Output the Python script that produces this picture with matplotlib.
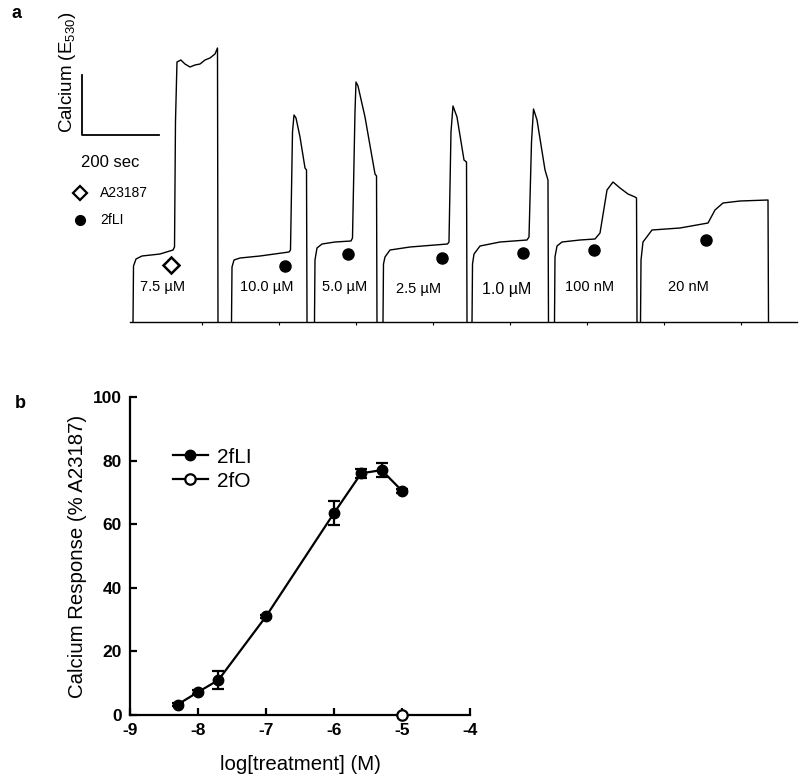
import matplotlib
matplotlib.use('Agg')
import matplotlib.pyplot as plt
from matplotlib.lines import Line2D
import numpy as np

plt.rcParams['font.family'] = ['Liberation Sans', 'DejaVu Sans']
plt.rcParams['axes.unicode_minus'] = False
plt.rcParams['mathtext.fontset'] = 'custom'
plt.rcParams['mathtext.rm'] = 'Liberation Sans'
plt.rcParams['mathtext.default'] = 'regular'

# ---- panel a: calcium traces (time in sec, signal in arbitrary E530 units)
trace_t = [
    [20.8, 22.1, 28.6, 44.1, 90.9, 124.7, 128.6, 131.1, 135.0, 145.0, 155.8, 168.8, 181.8, 194.8, 207.8, 220.7, 233.7, 240.2, 241.5],
    [276.6, 277.9, 283.1, 298.7, 350.6, 425.9, 429.8, 435.0, 438.9, 444.1, 454.5, 467.5, 471.4, 472.7],
    [492.1, 493.4, 498.6, 511.6, 545.4, 586.9, 590.8, 597.3, 599.9, 605.1, 623.3, 641.5, 649.3, 653.2, 654.4],
    [670.0, 671.3, 675.2, 688.2, 740.1, 837.5, 841.4, 846.6, 851.8, 862.2, 880.4, 886.9, 888.2],
    [901.2, 902.5, 906.4, 922.0, 973.9, 1044.0, 1049.2, 1055.7, 1060.9, 1070.0, 1090.8, 1098.5, 1099.8],
    [1115.4, 1116.7, 1121.9, 1134.9, 1181.6, 1220.6, 1233.6, 1251.8, 1267.4, 1285.5, 1306.3, 1324.5, 1328.4, 1329.7],
    [1338.8, 1340.1, 1345.2, 1368.6, 1441.3, 1514.1, 1532.2, 1553.0, 1597.2, 1669.9, 1671.2],
]
trace_y = [
    [0, 56, 63, 66, 68, 72, 75, 200, 260, 262, 258, 255, 257, 258, 262, 264, 268, 274, 0],
    [0, 55, 62, 64, 66, 70, 72, 190, 207, 204, 185, 154, 152, 0],
    [0, 62, 74, 78, 80, 81, 84, 210, 240, 236, 205, 165, 148, 146, 0],
    [0, 58, 65, 72, 75, 78, 80, 190, 216, 205, 162, 160, 0],
    [0, 58, 68, 76, 80, 82, 85, 180, 213, 202, 152, 142, 0],
    [0, 65, 76, 80, 82, 83, 89, 132, 140, 134, 128, 125, 124, 0],
    [0, 62, 80, 92, 94, 99, 112, 119, 121, 122, 0],
]
conc_labels = ['7.5 µM', '10.0 µM', '5.0 µM', '2.5 µM', '1.0 µM', '100 nM', '20 nM']
label_t = [98.7, 368.8, 571.3, 763.5, 992.1, 1207.6, 1462.1]
label_y = [35, 35, 35, 33, 33, 35, 35]
stim_t = [119.5, 415.5, 579.1, 823.2, 1033.6, 1218.0, 1508.9]
stim_y = [57, 56, 68, 64, 69, 72, 82]

# ---- panel b: dose response
log_conc = [-8.3, -8.0, -7.7, -7.0, -6.0, -5.6, -5.3, -5.0]
resp_2fli = [3.3, 7.2, 11.0, 31.0, 63.5, 76.0, 77.0, 70.5]
err_2fli = [0.6, 0.6, 2.8, 0.6, 3.7, 1.5, 2.3, 0.6]
log_conc_2fo = [-5.0]
resp_2fo = [0.0]

fig = plt.figure(figsize=(8, 7.81), dpi=100)

# panel a
ax = fig.add_axes([0.075, 0.5877, 0.92125, 0.3995])
for t, y in zip(trace_t, trace_y):
    ax.plot(t, y, color='black', lw=1.0)
ax.plot(stim_t[0], stim_y[0], marker='D', ms=8, mfc='white', mec='black', mew=1.8, ls='none')
ax.plot(stim_t[1:], stim_y[1:], marker='o', ms=8, color='black', ls='none')
for lab, x, y in zip(conc_labels, label_t, label_y):
    fs = 11.5 if lab == '1.0 µM' else 10.5
    ax.text(x, y, lab, ha='center', va='center', fontsize=fs)

# scale bar
ax.plot([-111.7, -111.7, 88.3], [247, 187, 187], color='black', lw=1.3, clip_on=False)
ax.text(-39, 160, '200 sec', ha='center', va='center', fontsize=12)
ax.text(-150.6, 250, 'Calcium (E$_{530}$)', rotation=90, ha='center', va='center', fontsize=13.5)
# key
ax.plot(-116.9, 129, marker='D', ms=7, mfc='white', mec='black', mew=1.6, ls='none')
ax.text(-64.9, 129, 'A23187', ha='left', va='center', fontsize=10)
ax.plot(-116.9, 102, marker='o', ms=7, color='black', ls='none')
ax.text(-64.9, 102, '2fLI', ha='left', va='center', fontsize=10)

ax.set_xlim(-168.8, 1745.2)
ax.set_ylim(0, 312)
for s in ['top', 'right', 'left']:
    ax.spines[s].set_visible(False)
ax.spines['bottom'].set_bounds(13, 1745.2)
ax.spines['bottom'].set_linewidth(1.0)
ax.set_xticks(np.arange(200, 1700, 200))
ax.tick_params(axis='x', direction='out', length=2.5, width=0.8, labelbottom=False)
ax.set_yticks([])

# panel b
bx = fig.add_axes([0.1625, 0.0845, 0.425, 0.4072])
bx.errorbar(log_conc, resp_2fli, yerr=err_2fli, color='black', lw=1.6, marker='o', ms=7.5,
            capsize=4, capthick=1.6, elinewidth=1.6, label='2fLI', clip_on=False, zorder=3)
bx.plot(log_conc_2fo, resp_2fo, color='black', lw=1.6, marker='o', ms=7.5, mfc='white',
        mew=1.6, label='2fO', clip_on=False, zorder=4)
bx.set_xlim(-9, -4)
bx.set_ylim(0, 100)
bx.set_xticks([-9, -8, -7, -6, -5, -4])
bx.set_yticks([0, 20, 40, 60, 80, 100])
for s in ['top', 'right']:
    bx.spines[s].set_visible(False)
for s in ['left', 'bottom']:
    bx.spines[s].set_linewidth(1.6)
bx.tick_params(direction='in', length=5, width=1.6, labelsize=12.5, pad=6)
for lab in bx.get_xticklabels() + bx.get_yticklabels():
    lab.set_fontweight('bold')
bx.set_xlabel('log[treatment] (M)', fontsize=14.7, labelpad=12)
bx.set_ylabel('Calcium Response (% A23187)', fontsize=14.7, labelpad=4)
handles = [Line2D([], [], color='black', lw=1.6, marker='o', ms=7.5),
           Line2D([], [], color='black', lw=1.6, marker='o', ms=7.5, mfc='white', mew=1.6)]
bx.legend(handles, ['2fLI', '2fO'], loc='upper left', bbox_to_anchor=(0.07, 0.9),
          frameon=False, fontsize=15, handlelength=1.7, handletextpad=0.45, labelspacing=0.25)

fig.text(12 / 800, 1 - 14 / 781, 'a', fontsize=13, fontweight='bold', ha='left', va='center')
fig.text(15 / 800, 1 - 403 / 781, 'b', fontsize=13, fontweight='bold', ha='left', va='center')

plt.savefig('out.png', dpi=100)
